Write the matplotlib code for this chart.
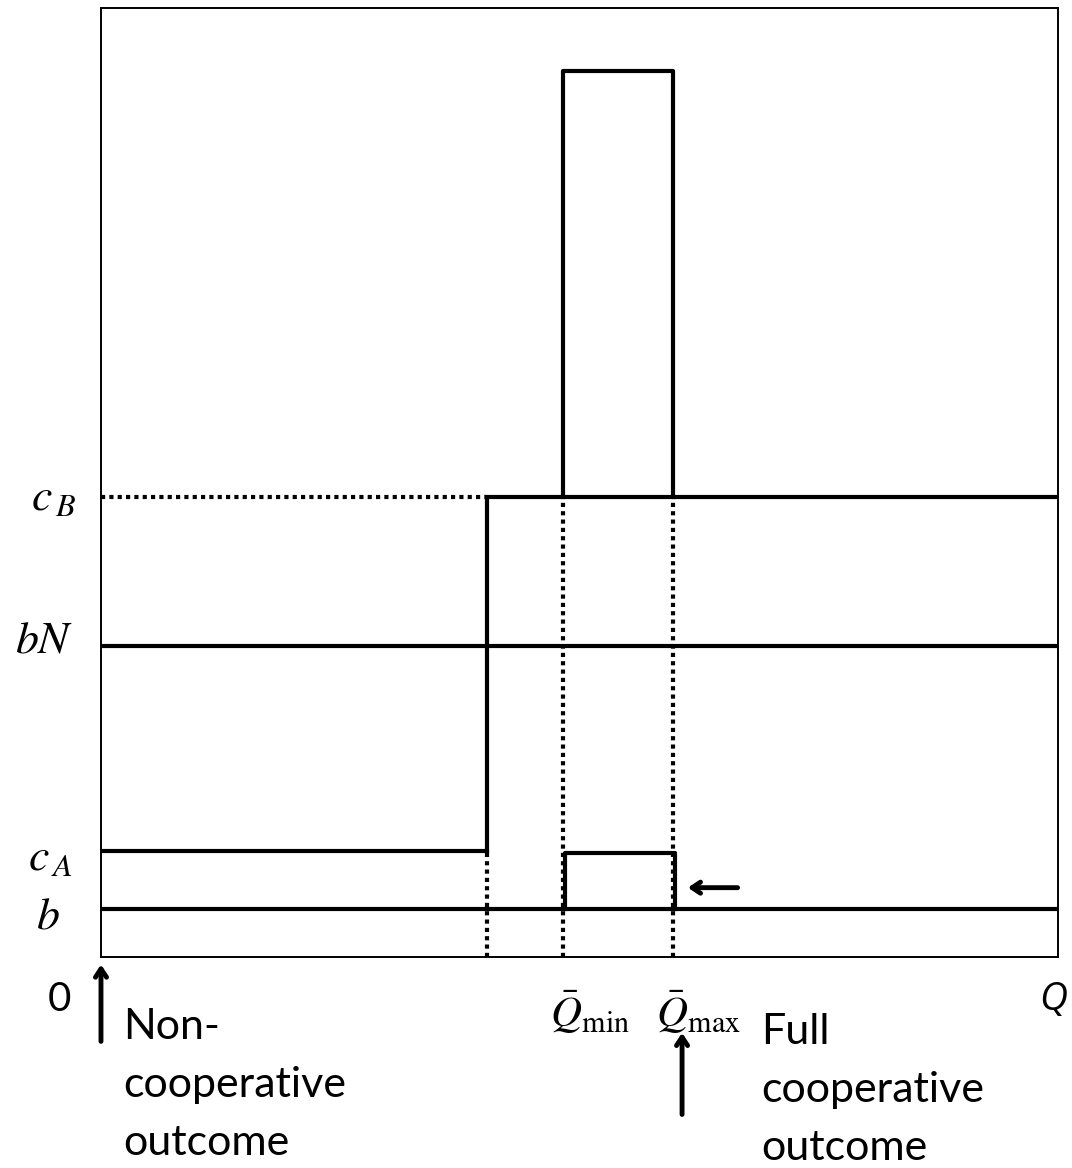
import numpy as np
import matplotlib.pyplot as plt

plt.rcParams['mathtext.fontset'] = 'stix'
plt.rcParams['font.family'] = ['Lato', 'DejaVu Sans']

# niveaux (axe y, 0..100)
b = 5.0
c_A = 11.2
c_A_box = 11.0
bN = 32.8
c_B = 48.5
peak = 93.4

# positions (axe x, 0..100)
Q_step = 40.3
Q_min = 48.3
Q_max = 59.8
Q_end = 100.0

y_labels = [r'$c_{\,B}$', r'$bN$', r'$c_{\,A}$', r'$b$']
y_label_vals = [c_B, bN + 0.6, c_A - 0.7, b - 0.6]
y_label_x = [-5.0, -5.9, -5.3, -5.6]

fig = plt.figure(figsize=(10.72, 11.68), dpi=100)
ax = fig.add_axes([0.0942, 0.1807, 0.893, 0.8125])
ax.set_xlim(0, Q_end)
ax.set_ylim(0, 100)
ax.set_xticks([])
ax.set_yticks([])
for s in ax.spines.values():
    s.set_linewidth(1.4)

lw = 3.0
dot = (0, (1, 1))

# linie poziome
ax.plot([0, Q_end], [b, b], 'k-', lw=lw)
ax.plot([0, Q_end], [bN, bN], 'k-', lw=lw)
ax.plot([0, Q_step], [c_A, c_A], 'k-', lw=lw)
ax.plot([Q_step, Q_step], [c_A, c_B - 0.4], 'k-', lw=lw)
ax.plot([Q_step, Q_end], [c_B, c_B], 'k-', lw=lw)
ax.plot([0, Q_step], [c_B, c_B], color='k', ls=dot, lw=lw)

# duzy prostokat
ax.plot([Q_min, Q_min, Q_max, Q_max], [c_B, peak, peak, c_B], 'k-', lw=lw)
# maly prostokat
ax.plot([Q_min + 0.2, Q_min + 0.2, Q_max + 0.2, Q_max + 0.2],
        [b, c_A_box, c_A_box, b], 'k-', lw=lw)

# kropkowane pionowe
ax.plot([Q_step, Q_step], [0, c_A], color='k', ls=dot, lw=lw)
ax.plot([Q_min, Q_min], [0, c_B], color='k', ls=dot, lw=lw)
ax.plot([Q_max, Q_max], [0, c_B], color='k', ls=dot, lw=lw)

# etykiety osi y
for lab, yv, xv in zip(y_labels, y_label_vals, y_label_x):
    ax.text(xv, yv, lab, fontsize=33, ha='center', va='center', clip_on=False)

ax.text(-4.3, -4.5, '0', fontsize=29, ha='center', va='center', clip_on=False)
ax.text(99.5, -4.5, 'Q', fontsize=28, family='Open Sans', style='italic',
        ha='center', va='center', clip_on=False)
ax.text(51.1, -5.8, r'$\bar{Q}_{\rm min}$', fontsize=31, ha='center', va='center', clip_on=False)
ax.text(62.4, -5.8, r'$\bar{Q}_{\rm max}$', fontsize=31, ha='center', va='center', clip_on=False)

ax.text(2.3, -5.4, 'Non-\ncooperative\noutcome', fontsize=31, ha='left', va='top',
        linespacing=1.65, clip_on=False)
ax.text(69.0, -5.9, 'Full\ncooperative\noutcome', fontsize=31, ha='left', va='top',
        linespacing=1.65, clip_on=False)

arr = dict(arrowstyle='->,head_length=0.6,head_width=0.4', lw=3.5, color='k',
           shrinkA=0, shrinkB=0)
ax.annotate('', xy=(0, -0.8), xytext=(0, -8.9), arrowprops=arr, annotation_clip=False)
ax.annotate('', xy=(60.7, -8.0), xytext=(60.7, -16.6), arrowprops=arr, annotation_clip=False)
ax.annotate('', xy=(61.3, 7.3), xytext=(66.5, 7.3), arrowprops=arr, annotation_clip=False)

plt.savefig('out.png', dpi=100)
